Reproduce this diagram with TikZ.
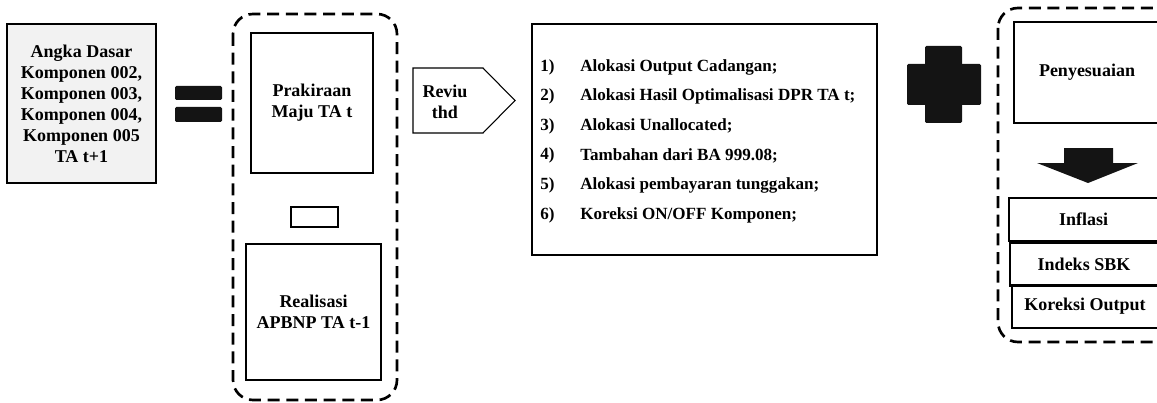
\documentclass[tikz,border=0pt]{standalone}
\usepackage{fontspec}
\setmainfont{Liberation Serif}
\begin{document}
\begin{tikzpicture}[x=0.75pt,y=-0.75pt,
    txt/.style={font=\bfseries\fontsize{13.5}{15.75}\selectfont, align=center},
    box/.style={draw, line width=0.8pt, inner sep=0pt, txt},
    grp/.style={draw, line width=2pt, dash pattern=on 9pt off 5pt, rounded corners=15pt},
    bar/.style={fill=black!92, rounded corners=1pt}]
\useasboundingbox (0,0) rectangle (1157,403);

% left side
\node[box, fill=gray!10, minimum width=149*0.75pt, minimum height=159*0.75pt] (base) at (81.5,103.5)
    {Angka Dasar\\Komponen 002,\\Komponen 003,\\Komponen 004,\\Komponen 005\\TA t+1};
\fill[bar] (175,86) rectangle (222,100);
\fill[bar] (175,107) rectangle (222,122);

\draw[grp] (233,14) rectangle (397,400);
\node[box, minimum width=122*0.75pt, minimum height=140*0.75pt] (maju) at (312,103) {Prakiraan\\Maju TA t};
\node[box, minimum width=47*0.75pt, minimum height=20*0.75pt] (minus) at (314.5,217) {};
\node[box, minimum width=135*0.75pt, minimum height=136*0.75pt] (real) at (313.5,312) {Realisasi\\APBNP TA t-1};

% reviu
\draw[line width=0.8pt] (413,68) -- (483,68) -- (515,100.5) -- (483,133) -- (413,133) -- cycle;
\node[txt] (reviu) at (445,102) {Reviu\\thd};

\node[box, minimum width=345*0.75pt, minimum height=231*0.75pt] (list) at (704.5,139.5) {};
\foreach \n/\t [count=\i from 0] in {1/{Alokasi Output Cadangan;},
    2/{Alokasi Hasil Optimalisasi DPR TA t;}, 3/{Alokasi Unallocated;},
    4/{Tambahan dari BA 999.08;}, 5/{Alokasi pembayaran tunggakan;},
    6/{Koreksi ON/OFF Komponen;}}
{
    \node[txt, font=\bfseries\fontsize{12.8}{15}\selectfont, anchor=west, inner sep=0pt] (num\n) at (540,67+29.6*\i) {\n)};
    \node[txt, font=\bfseries\fontsize{12.8}{15}\selectfont, anchor=west, inner sep=0pt] (item\n) at (580,67+29.6*\i) {\t};
}

% plus
\fill[bar] (925,46) rectangle (962,123);
\fill[bar] (907,64) rectangle (981,105);

% right side
\draw[grp] (998,8) rectangle (1175,342);
\node[box, minimum width=146*0.75pt, minimum height=101*0.75pt] (peny) at (1087,72.5) {Penyesuaian};
\fill[black!92] (1064,148) -- (1113,148) -- (1113,163) -- (1138,163) -- (1088,183)
    -- (1037,163) -- (1064,163) -- cycle;
\node[box, minimum width=149*0.75pt, minimum height=43*0.75pt] (infl) at (1083.5,219.5) {Inflasi};
\node[box, minimum width=148*0.75pt, minimum height=43*0.75pt] (sbk) at (1084,264.5) {Indeks SBK};
\node[box, minimum width=146*0.75pt, minimum height=43*0.75pt] (kor) at (1085,306.5) {Koreksi Output};
\end{tikzpicture}
\end{document}
